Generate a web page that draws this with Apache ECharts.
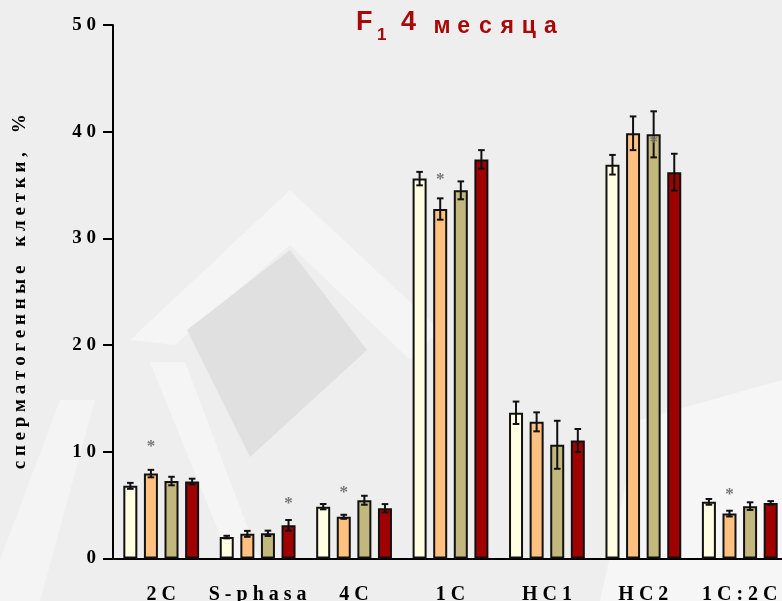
<!DOCTYPE html>
<html>
<head>
<meta charset="utf-8">
<script src="https://cdn.jsdelivr.net/npm/echarts@6/dist/echarts.min.js"></script>
<style>html,body{margin:0;padding:0;background:#eeeeee;}#chart{width:782px;height:601px;}</style>
</head>
<body>
<div id="chart"></div>
<script>
// ---- data ----
const categories = ['2C', 'S-phasa', '4C', '1C', 'HC1', 'HC2', '1C:2C'];
const group1 = [6.8, 2.0, 4.85, 35.6, 13.65, 36.9, 5.3];
const group2 = [7.95, 2.3, 3.9, 32.75, 12.8, 39.85, 4.2];
const group3 = [7.25, 2.35, 5.45, 34.5, 10.65, 39.75, 4.9];
const group4 = [7.2, 3.1, 4.7, 37.4, 11.05, 36.2, 5.2];
const err1 = [0.28, 0.12, 0.25, 0.63, 1.05, 0.92, 0.27];
const err2 = [0.35, 0.28, 0.19, 1.0, 0.89, 1.58, 0.27];
const err3 = [0.4, 0.25, 0.42, 0.84, 2.25, 2.16, 0.36];
const err4 = [0.27, 0.5, 0.39, 0.87, 1.08, 1.73, 0.17];
// significance marks: [category index, group index, y value]
const significance = [[0, 1, 10.45], [1, 3, 5.15], [2, 1, 6.15], [3, 1, 35.55], [5, 2, 38.95], [6, 1, 5.95]];
const yTicks = [0, 10, 20, 30, 40, 50];
const titleMain = 'F';
const titleSub = '1';
const titleNum = '4';
const titleWord = 'месяца';
const yName = 'сперматогенные клетки, %';

// ---- style ----
const colors = ['#FFFDE2', '#FFC080', '#C2B87E', '#A00000'];
const barW = 14;
const pitch = 20.6;
const serif = '"Liberation Serif", "DejaVu Serif", serif';
const sans = '"Liberation Sans", Arial, sans-serif';
const titleColor = '#A80808';

const values = [group1, group2, group3, group4];
const errs = [err1, err2, err3, err4];

const spaced = s => s.split(' ').map(w => w.split('').join(' ')).join('    ');

const chart = echarts.init(document.getElementById('chart'), null, {renderer: 'canvas'});

const series = [];
values.forEach((vals, i) => {
  series.push({
    type: 'bar',
    name: 'g' + i,
    data: vals,
    barWidth: barW,
    barGap: ((pitch - barW) / barW * 100).toFixed(1) + '%',
    itemStyle: {color: colors[i], borderColor: '#111', borderWidth: 2},
    z: 2
  });
});
values.forEach((vals, i) => {
  series.push({
    type: 'custom',
    name: 'e' + i,
    data: vals.map((v, k) => [k, v, errs[i][k]]),
    z: 5,
    renderItem: function (params, api) {
      const k = api.value(0), v = api.value(1), e = api.value(2);
      const off = (i - 1.5) * pitch;
      const top = api.coord([k, v + e]);
      const bot = api.coord([k, v - e]);
      const x = top[0] + off;
      const cw = 3.3;
      const st = {stroke: '#111', lineWidth: 2};
      return {
        type: 'group',
        children: [
          {type: 'line', shape: {x1: x, y1: top[1], x2: x, y2: bot[1]}, style: st},
          {type: 'line', shape: {x1: x - cw, y1: top[1], x2: x + cw, y2: top[1]}, style: st},
          {type: 'line', shape: {x1: x - cw, y1: bot[1], x2: x + cw, y2: bot[1]}, style: st}
        ]
      };
    }
  });
});
series.push({
  type: 'custom',
  name: 'sig',
  data: significance,
  z: 6,
  renderItem: function (params, api) {
    const k = api.value(0), g = api.value(1), y = api.value(2);
    const p = api.coord([k, y]);
    return {
      type: 'text',
      x: p[0] + (g - 1.5) * pitch,
      y: p[1],
      style: {text: '*', fill: '#777', font: 'bold 17px ' + serif, align: 'center', verticalAlign: 'middle'}
    };
  }
});

const graphics = [
  // faint background pattern
  {type: 'polygon', z: -10, silent: true, shape: {points: [[130, 340], [290, 190], [440, 330], [410, 360], [290, 245], [175, 345]]}, style: {fill: '#f5f5f5'}},
  {type: 'polygon', z: -10, silent: true, shape: {points: [[0, 560], [60, 400], [95, 400], [40, 601], [0, 601]]}, style: {fill: '#f4f4f4'}},
  {type: 'polygon', z: -10, silent: true, shape: {points: [[150, 362], [185, 362], [260, 560], [230, 560]]}, style: {fill: '#f5f5f5'}},
  {type: 'polygon', z: -9, silent: true, shape: {points: [[290, 250], [367, 350], [250, 457], [187, 330]]}, style: {fill: '#e0e0e0'}},
  {type: 'polygon', z: -10, silent: true, shape: {points: [[640, 420], [782, 380], [782, 601], [600, 601]]}, style: {fill: '#f6f6f6'}},
  // title
  {type: 'text', x: 356, y: 23, silent: true, style: {text: titleMain, font: 'bold 27px ' + sans, fill: titleColor, verticalAlign: 'middle'}},
  {type: 'text', x: 377, y: 35, silent: true, style: {text: titleSub, font: 'bold 17px ' + sans, fill: titleColor, verticalAlign: 'middle'}},
  {type: 'text', x: 401, y: 23, silent: true, style: {text: titleNum, font: 'bold 27px ' + sans, fill: titleColor, verticalAlign: 'middle'}}
];
titleWord.split('').forEach((ch, i) => {
  graphics.push({type: 'text', x: 442 + i * 21.7, y: 26.5, silent: true,
    style: {text: ch, font: 'bold 23px ' + sans, fill: titleColor, align: 'center', verticalAlign: 'middle'}});
});

const option = {
  backgroundColor: '#eeeeee',
  animation: false,
  graphic: graphics,
  grid: {left: 113, top: 25, width: 675, height: 533.4, containLabel: false, outerBoundsMode: 'none'},
  xAxis: {
    type: 'category',
    data: categories,
    axisLine: {lineStyle: {color: '#000', width: 2}},
    axisTick: {alignWithLabel: true, length: 11, lineStyle: {color: '#000', width: 2}},
    axisLabel: {
      margin: 26, interval: 0,
      formatter: v => spaced(v),
      fontFamily: serif, fontWeight: 'bold', fontSize: 20, color: '#000'
    },
    splitLine: {show: false}
  },
  yAxis: {
    type: 'value',
    min: yTicks[0], max: yTicks[yTicks.length - 1], interval: 10,
    name: spaced(yName),
    nameLocation: 'middle',
    nameRotate: 90,
    nameGap: 83,
    nameTextStyle: {fontFamily: serif, fontWeight: 'bold', fontSize: 19, color: '#000'},
    axisLine: {show: true, lineStyle: {color: '#000', width: 2}},
    axisTick: {show: true, length: 10, lineStyle: {color: '#000', width: 2}},
    axisLabel: {
      margin: 17,
      formatter: v => spaced(String(v)),
      fontFamily: serif, fontWeight: 'bold', fontSize: 19, color: '#000'
    },
    splitLine: {show: false}
  },
  series: series
};
chart.setOption(option);
</script>
</body>
</html>
